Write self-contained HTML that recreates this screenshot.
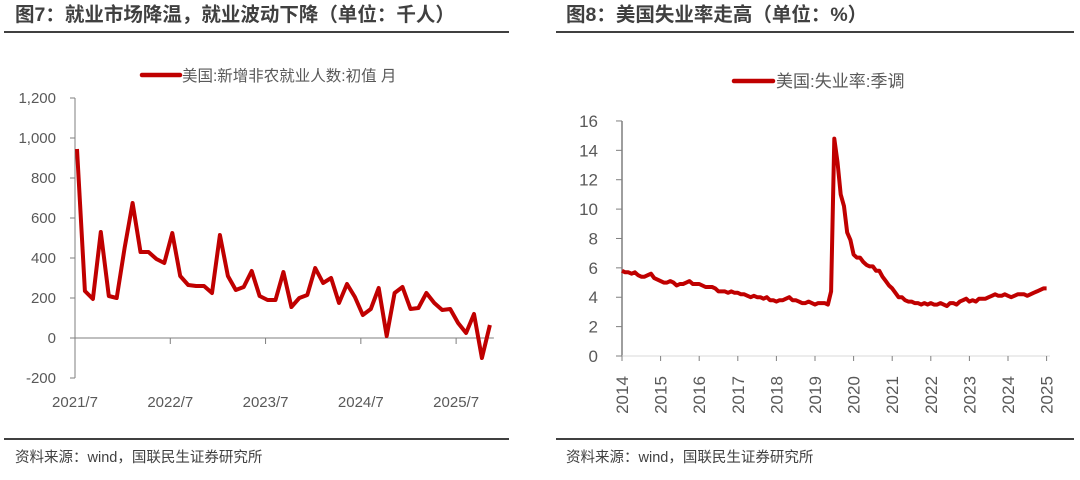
<!DOCTYPE html>
<html><head><meta charset="utf-8">
<style>
html,body{margin:0;padding:0;background:#fff;width:1080px;height:480px;overflow:hidden;font-family:"Liberation Sans","Noto Sans CJK SC",sans-serif;}
svg text{font-family:"Liberation Sans","Noto Sans CJK SC",sans-serif;}
</style></head>
<body>
<svg id="svg" width="1080" height="480" xmlns="http://www.w3.org/2000/svg">
  <text x="15" y="21" font-size="19.5" font-weight="bold" fill="#404040">图7：就业市场降温，就业波动下降（单位：千人）</text>
  <line x1="4" y1="32" x2="509" y2="32" stroke="#404040" stroke-width="2"/>
  <line x1="4" y1="439" x2="509" y2="439" stroke="#404040" stroke-width="2"/>
  <text x="15" y="462" font-size="14.5" fill="#404040">资料来源：wind，国联民生证券研究所</text>

  <text x="566" y="21" font-size="19.5" font-weight="bold" fill="#404040">图8：美国失业率走高（单位：%）</text>
  <line x1="556" y1="32" x2="1074" y2="32" stroke="#404040" stroke-width="2"/>
  <line x1="556" y1="439" x2="1074" y2="439" stroke="#404040" stroke-width="2"/>
  <text x="566" y="462" font-size="14.5" fill="#404040">资料来源：wind，国联民生证券研究所</text>

  <g id="left"></g>
  <g id="right"></g>
</svg>
<script>
// ---- Left chart data (monthly, starting 2021/7) ----
const nfpValues = [945,235,195,530,210,200,450,675,430,430,395,375,525,310,265,260,260,225,515,310,240,255,335,210,190,190,330,155,200,215,350,275,300,175,270,205,115,145,250,10,225,255,145,150,225,175,140,145,75,25,120,-100,65];
const nfpYTicks = [-200,0,200,400,600,800,1000,1200];
const nfpXLabels = ["2021/7","2022/7","2023/7","2024/7","2025/7"];
const nfpLegend = "美国:新增非农就业人数:初值 月";

// ---- Right chart data (monthly, starting 2014.0) ----
const urValues = [5.8,5.7,5.7,5.6,5.7,5.5,5.4,5.4,5.5,5.6,5.3,5.2,
 5.1,5.0,5.0,5.1,5.0,4.8,4.9,4.9,5.0,5.1,4.9,4.9,
 4.9,4.8,4.7,4.7,4.7,4.6,4.4,4.4,4.4,4.3,4.4,4.3,
 4.3,4.2,4.2,4.1,4.0,4.1,4.0,4.0,3.9,4.0,3.8,3.8,
 3.7,3.8,3.8,3.9,4.0,3.8,3.8,3.7,3.6,3.6,3.7,3.6,
 3.5,3.6,3.6,3.6,3.5,4.4,14.8,13.2,11.0,10.2,8.4,7.9,
 6.9,6.7,6.7,6.4,6.2,6.1,6.1,5.8,5.8,5.4,5.1,4.8,
 4.6,4.3,4.0,4.0,3.8,3.7,3.7,3.6,3.6,3.5,3.6,3.5,
 3.6,3.5,3.5,3.6,3.5,3.4,3.6,3.6,3.5,3.7,3.8,3.9,
 3.7,3.8,3.7,3.9,3.9,3.9,4.0,4.1,4.2,4.1,4.1,4.2,
 4.1,4.0,4.1,4.2,4.2,4.2,4.1,4.2,4.3,4.4,4.5,4.6,
 4.6];
const urYTicks = [0,2,4,6,8,10,12,14,16];
const urXLabels = ["2014","2015","2016","2017","2018","2019","2020","2021","2022","2023","2024","2025"];
const urLegend = "美国:失业率:季调";

const NS="http://www.w3.org/2000/svg";
function mk(parent,tag,attrs,txt){const e=document.createElementNS(NS,tag);for(const k in attrs)e.setAttribute(k,attrs[k]);if(txt!==undefined)e.textContent=txt;parent.appendChild(e);return e;}

// Left chart
(function(){
  const g=document.getElementById('left');
  const x0=75, mw=7.94;
  const yv=v=>338-v*0.2;
  const xm=i=>x0+2+i*mw;
  let el=mk(g,'line',{x1:x0,y1:yv(1200),x2:x0,y2:yv(-200),stroke:'#7f7f7f','stroke-width':1});
  
  
  nfpYTicks.forEach(t=>{
    let tk=mk(g,'line',{x1:x0-5,y1:yv(t),x2:x0,y2:yv(t),stroke:'#7f7f7f','stroke-width':1});
    
    
    let lb=mk(g,'text',{x:56,y:yv(t)+5,'font-size':15,fill:'#595959','text-anchor':'end'},t.toLocaleString('en-US'));
    
    
  });
  el=mk(g,'line',{x1:x0,y1:yv(0),x2:xm(nfpValues.length-1)+4,y2:yv(0),stroke:'#7f7f7f','stroke-width':1});
  
  
  nfpXLabels.forEach((s,i)=>{
    const x=x0+i*12*mw;
    let tk=mk(g,'line',{x1:x,y1:yv(0),x2:x,y2:yv(0)+6,stroke:'#7f7f7f','stroke-width':1});
    
    
    let lb=mk(g,'text',{x:x,y:407,'font-size':15,fill:'#595959','text-anchor':'middle'},s);
    
    
  });
  const pts=nfpValues.map((v,i)=>xm(i).toFixed(1)+','+yv(v).toFixed(1)).join(' ');
  el=mk(g,'polyline',{points:pts,fill:'none',stroke:'#c00000','stroke-width':4,'stroke-linejoin':'round'});
  
  
  el=mk(g,'line',{x1:142,y1:75,x2:180,y2:75,stroke:'#c00000','stroke-width':4.5,'stroke-linecap':'round'});
  
  
  el=mk(g,'text',{x:182,y:81,'font-size':15.5,fill:'#595959'},nfpLegend);
  
  
})();

// Right chart
(function(){
  const g=document.getElementById('right');
  const x0=622, yw=38.6;
  const yv=v=>356-v*14.69;
  const xm=i=>x0+(i/12)*yw;
  let el=mk(g,'line',{x1:x0,y1:yv(16),x2:x0,y2:yv(0),stroke:'#7f7f7f','stroke-width':1.5});
  
  
  urYTicks.forEach(t=>{
    let tk=mk(g,'line',{x1:x0-6,y1:yv(t),x2:x0,y2:yv(t),stroke:'#7f7f7f','stroke-width':1});
    
    
    let lb=mk(g,'text',{x:598,y:yv(t)+6,'font-size':17,fill:'#595959','text-anchor':'end'},String(t));
    
    
  });
  el=mk(g,'line',{x1:x0,y1:yv(0),x2:1050,y2:yv(0),stroke:'#d9d9d9','stroke-width':1});
  
  
  urXLabels.forEach((s,i)=>{
    const x=x0+i*yw;
    let tk=mk(g,'line',{x1:x,y1:yv(0),x2:x,y2:yv(0)+5,stroke:'#7f7f7f','stroke-width':1});
    
    
    let lb=mk(g,'text',{x:0,y:0,'font-size':17,fill:'#595959','text-anchor':'middle',transform:`translate(${x+6},395) rotate(-90)`},s);
    
    
  });
  const pts=urValues.map((v,i)=>xm(i).toFixed(1)+','+yv(v).toFixed(1)).join(' ');
  el=mk(g,'polyline',{points:pts,fill:'none',stroke:'#c00000','stroke-width':4,'stroke-linejoin':'round'});
  
  
  el=mk(g,'line',{x1:734,y1:81,x2:773,y2:81,stroke:'#c00000','stroke-width':4.5,'stroke-linecap':'round'});
  
  
  el=mk(g,'text',{x:776,y:87,'font-size':17,fill:'#595959'},urLegend);
  
  
})();
</script>
</body></html>
